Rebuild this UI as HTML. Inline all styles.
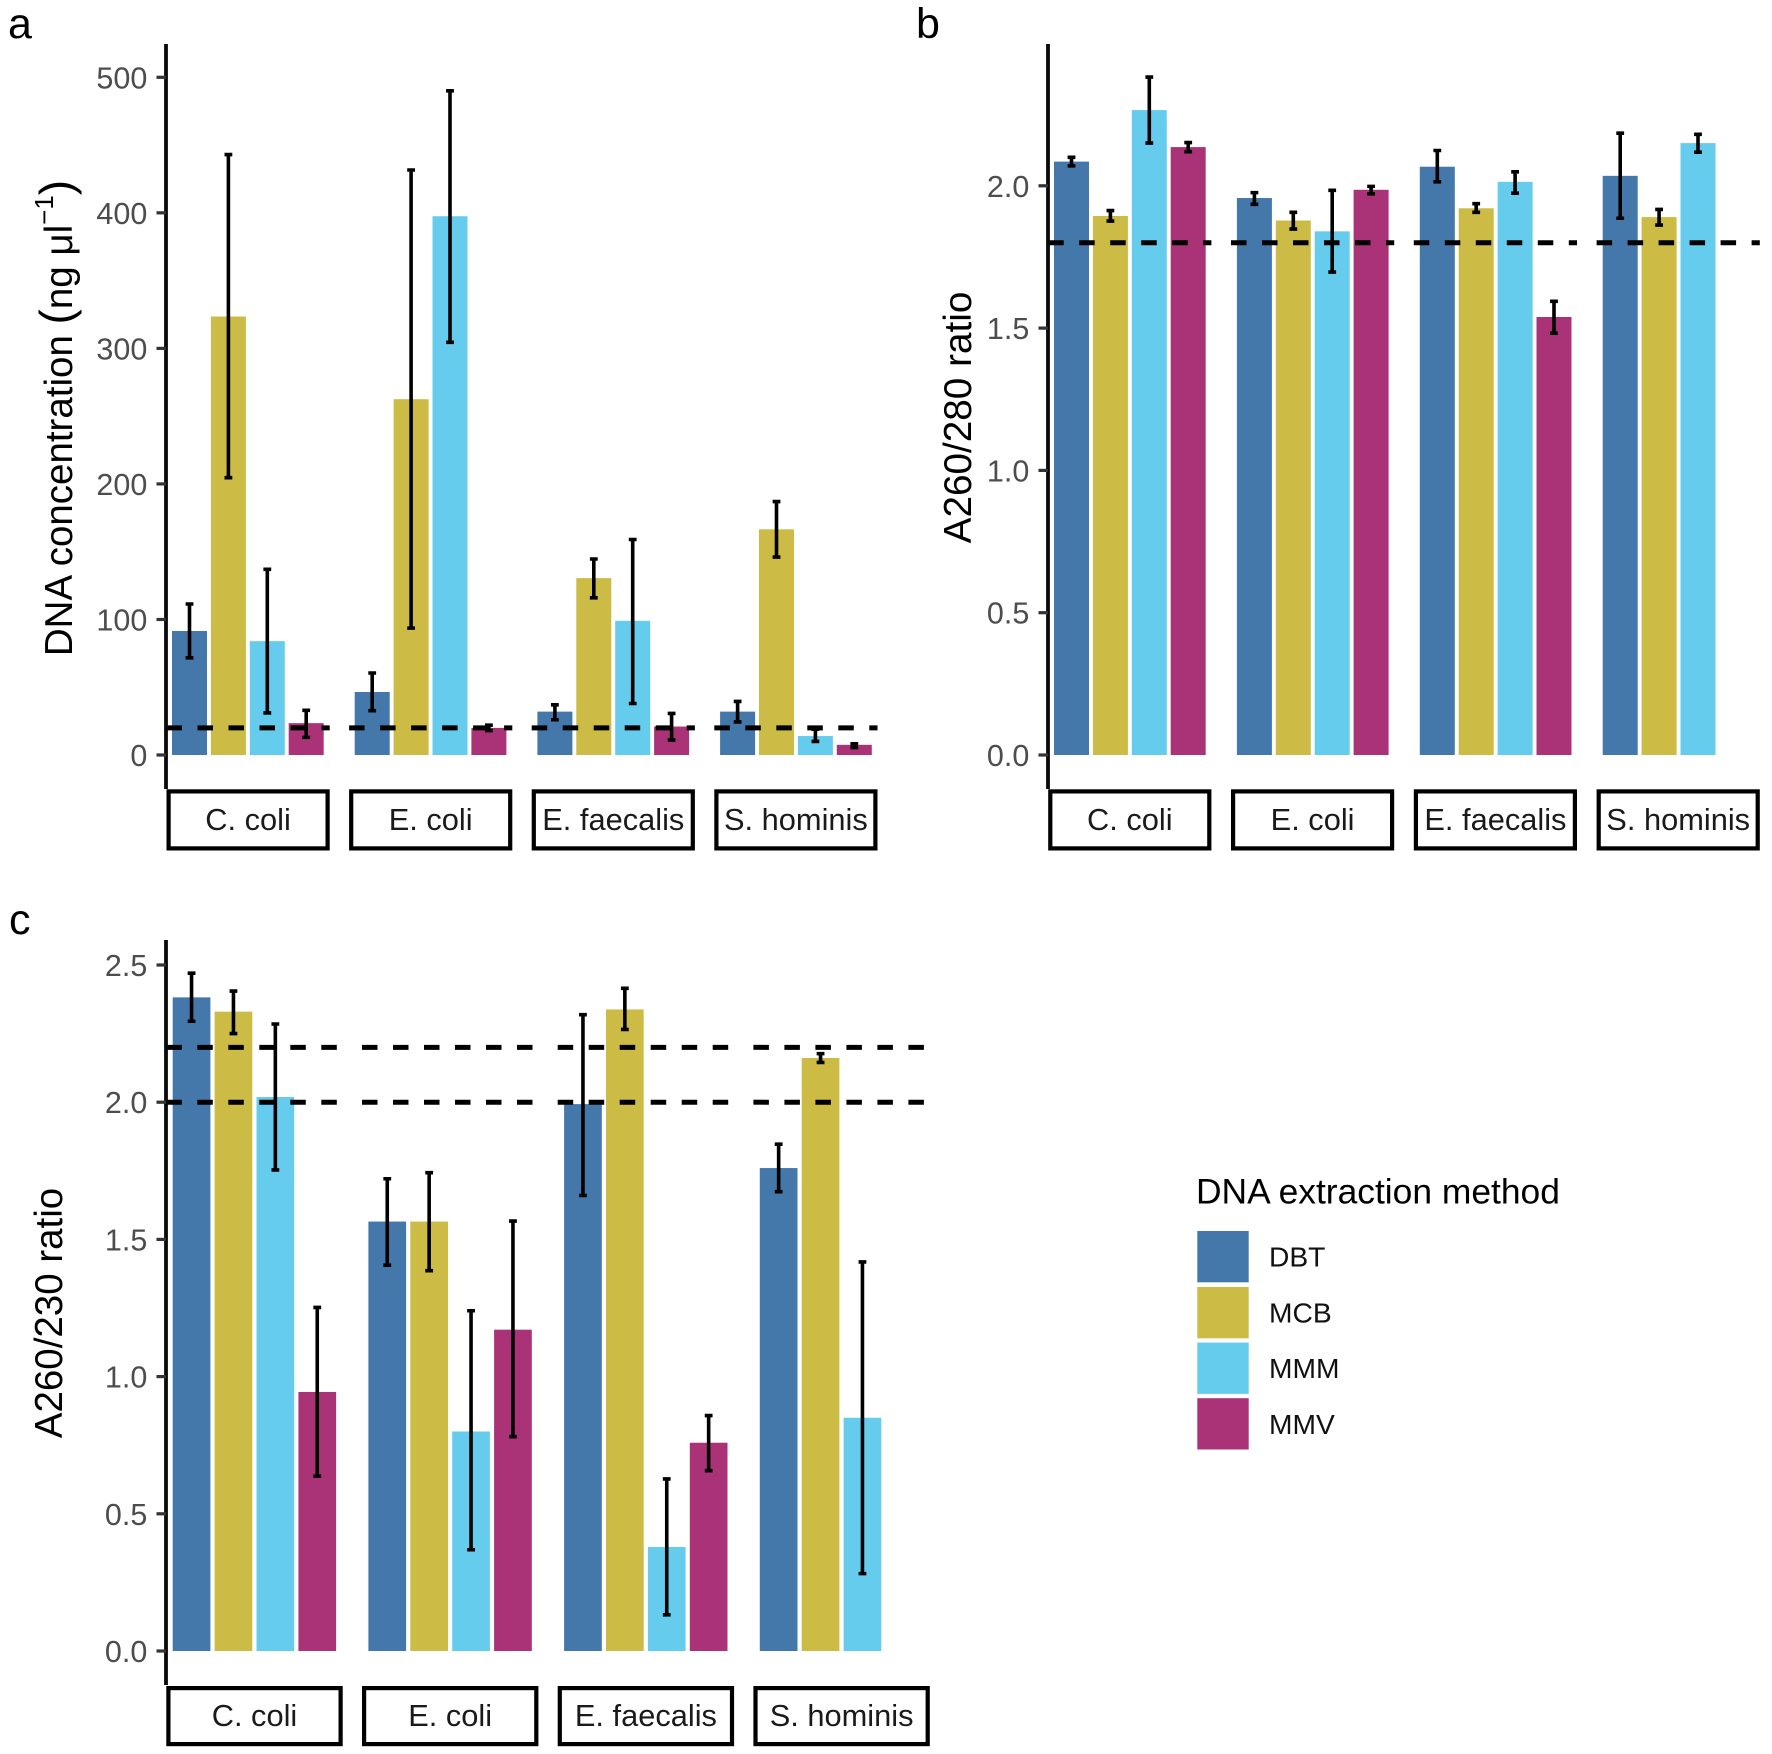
<!DOCTYPE html>
<html lang="en">
<head>
<meta charset="utf-8">
<title>DNA yield and purity by extraction method</title>
<style>
html,body{margin:0;padding:0;background:#fff;}
svg{display:block;}
text{font-family:"Liberation Sans",sans-serif;}
</style>
</head>
<body>
<svg id="figure" xmlns="http://www.w3.org/2000/svg" width="1772" height="1754" viewBox="0 0 1772 1754">
  <rect x="0" y="0" width="1772" height="1754" fill="#ffffff"/>
  <text x="8" y="38" font-size="43" fill="#000">a</text>
  <text x="916" y="38" font-size="43" fill="#000">b</text>
  <text x="9" y="934" font-size="43" fill="#000">c</text>

  <text transform="translate(72,418) rotate(-90)" text-anchor="middle" font-size="38.5" fill="#000">DNA concentration <tspan font-size="46">(</tspan>ng μl<tspan font-size="26" dy="-19">−1</tspan><tspan font-size="46" dy="19">)</tspan></text>
  <text transform="translate(971,417.5) rotate(-90)" text-anchor="middle" font-size="38.7" fill="#000">A260/280 ratio</text>
  <text transform="translate(62,1313) rotate(-90)" text-anchor="middle" font-size="38.5" fill="#000">A260/230 ratio</text>

  <g id="panel-a"></g>
  <g id="panel-b"></g>
  <g id="panel-c"></g>

  <g>
    <text x="1196" y="1203.5" font-size="35.4" fill="#000">DNA extraction method</text>
    <g>
      <rect x="1197.3" y="1231" width="51.4" height="51.3" fill="#4477AA"/>
      <text x="1269" y="1266.7" font-size="28.2" fill="#111">DBT</text>
    </g>
    <g>
      <rect x="1197.3" y="1287" width="51.4" height="51.3" fill="#CCBB44"/>
      <text x="1269" y="1322.3" font-size="28.2" fill="#111">MCB</text>
    </g>
    <g>
      <rect x="1197.3" y="1342.6" width="51.4" height="51.3" fill="#66CCEE"/>
      <text x="1269" y="1378" font-size="28.2" fill="#111">MMM</text>
    </g>
    <g>
      <rect x="1197.3" y="1398.2" width="51.4" height="51.3" fill="#AA3377"/>
      <text x="1269" y="1434" font-size="28.2" fill="#111">MMV</text>
    </g>
  </g>
</svg>
<script>
// Shared categories
const species = ["C. coli", "E. coli", "E. faecalis", "S. hominis"];
const methods = ["DBT", "MCB", "MMM", "MMV"];
const methodColors = ["#4477AA", "#CCBB44", "#66CCEE", "#AA3377"];

// Panel a: DNA concentration (rows = species, columns = methods)
const concMean = [[91.5, 323.5, 84, 23.5], [46.5, 262.5, 397.5, 20], [32, 130.5, 99, 21], [32, 166.5, 14, 7.5]];
const concHigh = [[111.4, 443, 137, 33], [60.5, 431.6, 490, 22], [37, 144.6, 159, 30.7], [39.5, 187, 19, 8.3]];
const concLow = [[71.7, 204.6, 31, 13], [32.7, 93.6, 304.5, 18], [26, 116, 38, 11], [24.4, 146, 10, 5.5]];
const concTicks = [0, 100, 200, 300, 400, 500];
const concTickLabels = ["0", "100", "200", "300", "400", "500"];
const concRefLines = [20];

// Panel b: A260/280 ratio
const a280Mean = [[2.085, 1.894, 2.266, 2.136], [1.957, 1.878, 1.84, 1.986], [2.067, 1.921, 2.014, 1.539], [2.035, 1.89, 2.15, null]];
const a280High = [[2.10, 1.913, 2.382, 2.152], [1.976, 1.907, 1.984, 1.998], [2.124, 1.937, 2.049, 1.594], [2.185, 1.917, 2.181, null]];
const a280Low = [[2.07, 1.876, 2.15, 2.12], [1.935, 1.848, 1.697, 1.972], [2.014, 1.907, 1.974, 1.482], [1.886, 1.862, 2.118, null]];
const a280Ticks = [0, 0.5, 1, 1.5, 2];
const a280TickLabels = ["0.0", "0.5", "1.0", "1.5", "2.0"];
const a280RefLines = [1.8];

// Panel c: A260/230 ratio
const a230Mean = [[2.382, 2.33, 2.019, 0.944], [1.565, 1.565, 0.80, 1.171], [1.993, 2.338, 0.379, 0.759], [1.76, 2.161, 0.85, null]];
const a230High = [[2.47, 2.405, 2.285, 1.252], [1.721, 1.743, 1.24, 1.567], [2.319, 2.415, 0.627, 0.858], [1.847, 2.177, 1.418, null]];
const a230Low = [[2.295, 2.25, 1.753, 0.637], [1.406, 1.386, 0.369, 0.781], [1.66, 2.265, 0.132, 0.657], [1.674, 2.145, 0.282, null]];
const a230Ticks = [0, 0.5, 1, 1.5, 2, 2.5];
const a230TickLabels = ["0.0", "0.5", "1.0", "1.5", "2.0", "2.5"];
const a230RefLines = [2, 2.2];

const SVG_NS = "http://www.w3.org/2000/svg";

function make(parent, tag, attrs) {
  const el = document.createElementNS(SVG_NS, tag);
  for (const k in attrs) el.setAttribute(k, attrs[k]);
  parent.appendChild(el);
  return el;
}

function slug(s) {
  return s.toLowerCase().replace(/[^a-z0-9]+/g, "-");
}

function drawPanel(cfg) {
  const root = document.getElementById(cfg.id);
  const yScale = function (v) { return cfg.y0 - v * cfg.pxPerUnit; };
  const facetLeft = function (g) { return cfg.left + g * cfg.facetPitch; };
  const barLeft = function (g, m) { return cfg.barStart + g * cfg.groupPitch + m * cfg.barPitch; };

  // bars
  cfg.mean.forEach(function (row, g) {
    row.forEach(function (v, m) {
      if (v === null) return;
      const bar = make(root, "rect", {
        x: barLeft(g, m), y: yScale(v), width: cfg.barWidth, height: yScale(0) - yScale(v), fill: methodColors[m]
      });
      
      
    });
  });

  // dashed reference lines, one run per facet
  cfg.refLines.forEach(function (r) {
    species.forEach(function (s, g) {
      const line = make(root, "line", {
        x1: facetLeft(g), x2: facetLeft(g) + cfg.facetWidth, y1: yScale(r), y2: yScale(r),
        stroke: "#000", "stroke-width": 5, "stroke-dasharray": "15.5 15.5"
      });
      
      
    });
  });

  // error bars
  cfg.mean.forEach(function (row, g) {
    row.forEach(function (v, m) {
      if (v === null) return;
      const cx = barLeft(g, m) + cfg.barWidth / 2;
      const hi = yScale(cfg.high[g][m]);
      const lo = yScale(cfg.low[g][m]);
      const eb = make(root, "path", {
        d: "M" + (cx - 3.9) + " " + hi + "H" + (cx + 3.9) + "M" + cx + " " + hi + "V" + lo + "M" + (cx - 3.9) + " " + lo + "H" + (cx + 3.9),
        stroke: "#000", "stroke-width": 3.6, fill: "none"
      });
      
      
    });
  });

  // y axis
  const axis = make(root, "line", {
    x1: cfg.axisX, x2: cfg.axisX, y1: cfg.axisTop, y2: cfg.axisBottom, stroke: "#0a0a0a", "stroke-width": 3.8
  });
  
  

  cfg.ticks.forEach(function (t, i) {
    const y = yScale(t);
    const tick = make(root, "line", {
      x1: cfg.axisX - 9.5, x2: cfg.axisX, y1: y, y2: y, stroke: "#333333", "stroke-width": 3.2
    });
    
    
    const label = make(root, "text", {
      x: cfg.axisX - 18.7, y: y + 11, "text-anchor": "end", "font-size": 30.5, fill: "#4d4d4d"
    });
    
    
    label.textContent = cfg.tickLabels[i];
  });

  // facet strips
  species.forEach(function (s, g) {
    const x = facetLeft(g);
    const strip = make(root, "rect", {
      x: x + 2.1, y: cfg.stripTop + 2.1, width: cfg.facetWidth - 4.2, height: cfg.stripBottom - cfg.stripTop - 4.2,
      fill: "#fff", stroke: "#000", "stroke-width": 4.2
    });
    
    
    const label = make(root, "text", {
      x: x + cfg.facetWidth / 2, y: cfg.stripBaseline, "text-anchor": "middle", "font-size": 30.8, fill: "#1a1a1a"
    });
    
    
    label.textContent = s;
  });
}

drawPanel({
  id: "panel-a", mean: concMean, high: concHigh, low: concLow,
  ticks: concTicks, tickLabels: concTickLabels, refLines: concRefLines,
  y0: 755, pxPerUnit: 1.3554, left: 166.5, facetPitch: 182.6, facetWidth: 163.2,
  barStart: 172, groupPitch: 182.7, barPitch: 38.9, barWidth: 35,
  axisX: 166, axisTop: 44, axisBottom: 789, stripTop: 789.3, stripBottom: 850.5, stripBaseline: 830
});
drawPanel({
  id: "panel-b", mean: a280Mean, high: a280High, low: a280Low,
  ticks: a280Ticks, tickLabels: a280TickLabels, refLines: a280RefLines,
  y0: 755, pxPerUnit: 284.6, left: 1048.2, facetPitch: 182.8, facetWidth: 163.2,
  barStart: 1054, groupPitch: 182.9, barPitch: 38.9, barWidth: 35,
  axisX: 1048, axisTop: 44, axisBottom: 789, stripTop: 789.3, stripBottom: 850.5, stripBaseline: 830
});
drawPanel({
  id: "panel-c", mean: a230Mean, high: a230High, low: a230Low,
  ticks: a230Ticks, tickLabels: a230TickLabels, refLines: a230RefLines,
  y0: 1651, pxPerUnit: 274.4, left: 166.3, facetPitch: 195.7, facetWidth: 176.4,
  barStart: 172.7, groupPitch: 195.7, barPitch: 41.9, barWidth: 37.7,
  axisX: 166, axisTop: 940, axisBottom: 1685, stripTop: 1686, stripBottom: 1746.2, stripBaseline: 1726
});
</script>
</body>
</html>
